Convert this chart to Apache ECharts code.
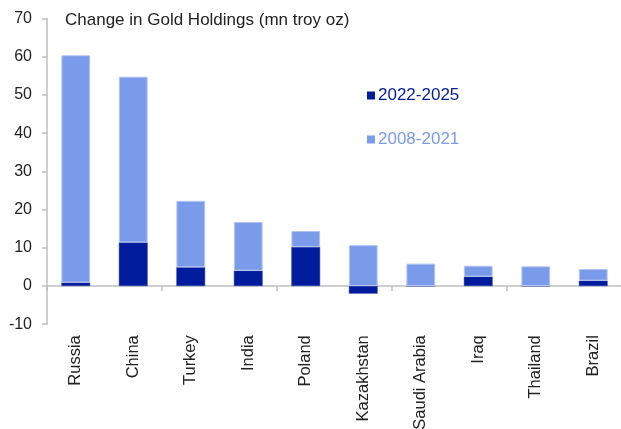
<!DOCTYPE html>
<html>
<head>
<meta charset="utf-8">
<script src="https://cdn.jsdelivr.net/npm/echarts@6/dist/echarts.min.js"></script>
<style>
  html, body { margin: 0; padding: 0; background: #ffffff; }
  #chart { width: 621px; height: 429px; }
</style>
</head>
<body>
<div id="chart"></div>
<script>
// Change in central bank gold holdings, million troy ounces
const countries = ['Russia', 'China', 'Turkey', 'India', 'Poland', 'Kazakhstan', 'Saudi Arabia', 'Iraq', 'Thailand', 'Brazil'];
const recent2022to2025 = [0.9, 11.4, 4.9, 4.0, 10.2, -2.0, 0.0, 2.45, 0.0, 1.4];
const earlier2008to2021 = [59.5, 43.4, 17.4, 12.75, 4.2, 10.7, 5.85, 2.85, 5.15, 3.05];
const yTicks = { min: -10, max: 70, step: 10 };

const DARK = '#001c9c';
const LIGHT = '#7a9aea';
const AXIS = '#bfbfbf';
const FONT = '"Liberation Sans", Arial, sans-serif';

const chart = echarts.init(document.getElementById('chart'), null, { renderer: 'canvas' });

chart.setOption({
  animation: false,
  title: {
    text: 'Change in Gold Holdings (mn troy oz)',
    left: 65,
    top: 12,
    padding: 0,
    textStyle: { fontFamily: FONT, fontSize: 17, fontWeight: 'normal', color: '#222222' }
  },
  legend: {
    orient: 'vertical',
    left: 367,
    top: 87,
    padding: 0,
    itemWidth: 8,
    itemHeight: 8,
    itemGap: 27,
    icon: 'rect',
    itemStyle: { borderWidth: 0 },
    textStyle: { fontFamily: FONT, fontSize: 17, padding: [0, 0, 0, -2] },
    data: [
      { name: '2022-2025', textStyle: { color: DARK } },
      { name: '2008-2021', textStyle: { color: LIGHT } }
    ]
  },
  grid: {
    left: 47, top: 18.6, width: 575, height: 305.6,
    containLabel: false,
    outerBoundsMode: 'none'
  },
  xAxis: [
    {
      type: 'category',
      data: countries,
      position: 'bottom',
      axisLine: { show: false, onZero: false },
      axisTick: { show: false },
      axisLabel: {
        rotate: 90,
        margin: 11,
        fontFamily: FONT,
        fontSize: 16.5,
        color: '#222222'
      }
    },
    {
      type: 'category',
      data: countries,
      position: 'bottom',
      axisLine: { show: true, onZero: true, lineStyle: { color: AXIS, width: 1.5 } },
      axisTick: { show: true, length: 5, lineStyle: { color: AXIS, width: 1.5 } },
      axisLabel: { show: false }
    }
  ],
  yAxis: {
    type: 'value',
    min: yTicks.min,
    max: yTicks.max,
    interval: yTicks.step,
    axisLine: { show: true, lineStyle: { color: AXIS, width: 1.5 } },
    axisTick: { show: true, length: 5, lineStyle: { color: AXIS, width: 1.5 } },
    splitLine: { show: false },
    axisLabel: { margin: 15, fontFamily: FONT, fontSize: 16, color: '#222222' }
  },
  series: [
    {
      name: '2022-2025',
      type: 'bar',
      stack: 'total',
      xAxisIndex: 0,
      barWidth: '50%',
      data: recent2022to2025,
      itemStyle: { color: DARK, borderColor: '#2a3fae', borderWidth: 0.5 }
    },
    {
      name: '2008-2021',
      type: 'bar',
      stack: 'total',
      xAxisIndex: 0,
      barWidth: '50%',
      data: earlier2008to2021,
      itemStyle: { color: LIGHT, borderColor: '#b3c4f2', borderWidth: 1 }
    }
  ]
});
</script>
</body>
</html>
